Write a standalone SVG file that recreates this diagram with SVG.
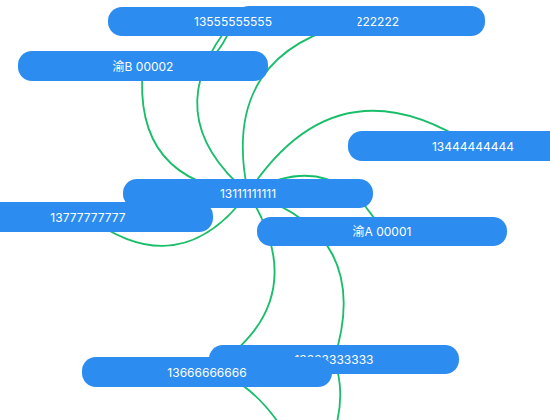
<svg xmlns="http://www.w3.org/2000/svg" width="550" height="420" viewBox="0 0 550 420">
<style>
.edge{fill:none;stroke:#19be6b;stroke-width:1.8}
.node rect{fill:#2d8cf0}
.node text{fill:#ffffff;font-family:Inter,"Noto Sans CJK SC",sans-serif;font-size:12px;text-anchor:middle;font-variant-numeric:proportional-nums}
</style>
<rect width="550" height="420" fill="#ffffff"/>
<g id="edges">
<path class="edge" d="M248,193 Q132,182 143,66"/>
<path class="edge" d="M248,193 Q154.5,114.5 233,21"/>
<path class="edge" d="M248,193 Q218,51 360,21"/>
<path class="edge" d="M248,193 Q337,57 473,146"/>
<path class="edge" d="M248,193 Q334,145 382,231"/>
<path class="edge" d="M248,193 Q180,285 88,217"/>
<path class="edge" d="M248,193 Q317,303 207,372"/>
<path class="edge" d="M248,193 Q374.25,233.25 334,359.5"/>
<path class="edge" d="M233,21 Q210.5,88.5 143,66"/>
<path class="edge" d="M207,372 Q250,375 290,440"/>
<path class="edge" d="M334,359.5 Q346,392 335,430"/>
</g>
<g id="n13222222222" class="node"><rect x="235" y="6" width="250" height="30" rx="14"/><text x="360" y="25.5">13222222222</text></g>
<g id="n13555555555" class="node"><rect x="108" y="7" width="250" height="29" rx="14"/><text x="233" y="25.5">13555555555</text></g>
<g id="nYuB00002" class="node"><rect x="18" y="51" width="250" height="30" rx="14"/><text x="143" y="70.5">渝B 00002</text></g>
<g id="n13444444444" class="node"><rect x="348" y="131" width="250" height="30" rx="14"/><text x="473" y="150.5">13444444444</text></g>
<g id="n13777777777" class="node"><rect x="-37" y="202" width="250" height="30" rx="14"/><text x="88" y="221.5">13777777777</text></g>
<g id="n13111111111" class="node"><rect x="123" y="179" width="250" height="29" rx="14"/><text x="248" y="198">13111111111</text></g>
<g id="nYuA00001" class="node"><rect x="257" y="217" width="250" height="29" rx="14"/><text x="382" y="235.5">渝A 00001</text></g>
<g id="n13333333333" class="node"><rect x="209" y="345" width="250" height="29" rx="14"/><text x="334" y="363.5">13333333333</text></g>
<g id="n13666666666" class="node"><rect x="82" y="357" width="250" height="30" rx="14"/><text x="207" y="376.5">13666666666</text></g>
</svg>
